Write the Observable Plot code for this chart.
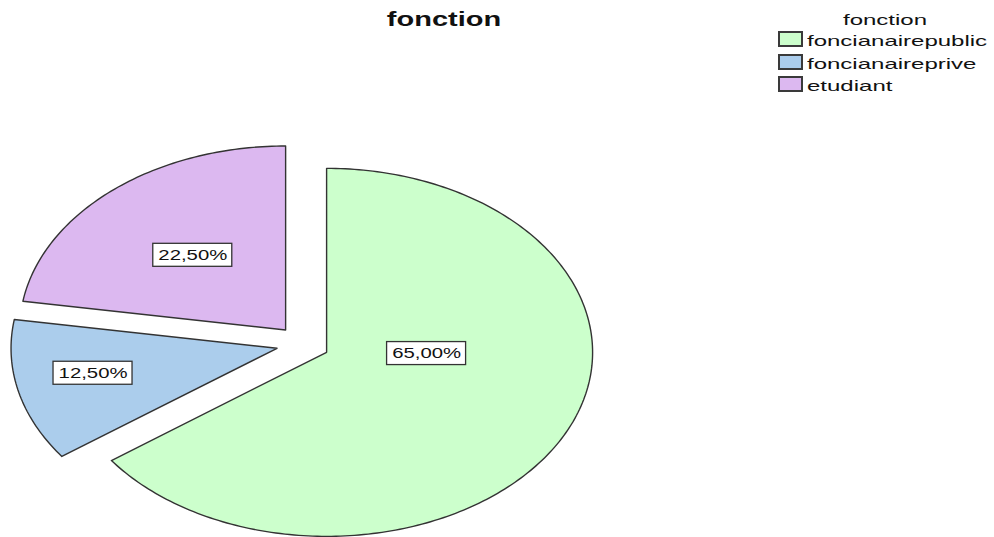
<!DOCTYPE html>
<html>
<head>
<meta charset="utf-8">
<script src="https://cdn.jsdelivr.net/npm/d3@7"></script>
<script src="https://cdn.jsdelivr.net/npm/@observablehq/plot@0.6"></script>
<style>
  html, body { margin: 0; padding: 0; background: #fff; }
  #chart { position: relative; width: 994px; height: 537px; font-family: "Liberation Sans", Arial, sans-serif; color: #111; }
  #header { position: relative; height: 100px; }
  .stretch { position: absolute; white-space: nowrap; }
  #title { left: 444px; top: 8px; font-size: 21px; line-height: 21px; font-weight: bold; transform: translateX(-50%) scaleX(1.38); }
  #legend-title { left: 885px; top: 12px; font-size: 15px; line-height: 15px; transform: translateX(-50%) scaleX(1.6); }
  .swatch { position: absolute; left: 778px; width: 21px; height: 12px; border: 2px solid #3a3a3a; }
  .legend-label { left: 807px; font-size: 15px; line-height: 15px; transform-origin: left center; transform: scaleX(1.6); }
  svg { display: block; }
</style>
</head>
<body>
<div id="chart">
  <div id="header">
    <div id="title" class="stretch">fonction</div>
    <div id="legend-title" class="stretch">fonction</div>
  </div>
</div>
<script>
// Occupation breakdown (share of respondents, %)
const categories = ["foncianairepublic", "foncianaireprive", "etudiant"];
const percents = [65, 12.5, 22.5];
const colors = ["#ccffcc", "#abcdec", "#dcb8f0"];

// Layout: pie centre sits at (302.4, 243.5) in the svg, radii 266 x 184 px
const CX = 302.4, CY = 243.5, RX = 266, RY = 184;
const W = 994, H = 437;
const EXPLODE = 0.1;                     // every slice pulled out by 10% of the radius
const labelAnchors = [[0.465, -0.052], [-0.789, -0.159], [-0.414, 0.482]];

const fmt = p => p.toFixed(2).replace(".", ",") + "%";

// Slice outlines in pie units (unit circle), clockwise from 12 o'clock
const arcs = d3.pie().sort(null).value(d => d)(percents);
const slices = arcs.flatMap((a, i) => {
  const name = categories[i];
  const mid = (a.startAngle + a.endAngle) / 2;
  const ox = EXPLODE * Math.sin(mid), oy = EXPLODE * Math.cos(mid);
  const n = Math.max(2, Math.ceil((a.endAngle - a.startAngle) / (Math.PI / 180)));
  const pts = [{name, x: ox, y: oy}];
  for (let k = 0; k <= n; ++k) {
    const t = a.startAngle + (a.endAngle - a.startAngle) * k / n;
    pts.push({name, x: ox + Math.sin(t), y: oy + Math.cos(t)});
  }
  return pts;
});

const labels = categories.map((name, i) => ({
  name, x: labelAnchors[i][0], y: labelAnchors[i][1], text: fmt(percents[i])
}));

const chart = Plot.plot({
  width: W,
  height: H,
  margin: 0,
  x: {domain: [-CX / RX, (W - CX) / RX], axis: null},
  y: {domain: [-(H - CY) / RY, CY / RY], axis: null},
  color: {domain: categories, range: colors},
  style: {background: "white"},
  marks: [
    Plot.line(slices, {x: "x", y: "y", z: "name", fill: "name", stroke: "#333", strokeWidth: 1.4, curve: "linear-closed"}),
    Plot.rect(labels, {x1: "x", x2: "x", y1: "y", y2: "y", insetLeft: -39.5, insetRight: -39.5, insetTop: -11.5, insetBottom: -11.5, fill: "white", stroke: "#333", strokeWidth: 1.3}),
    Plot.text(labels, {x: "x", y: "y", text: "text", fontSize: 14, fontFamily: "Liberation Sans, Arial, sans-serif", fill: "#111"})
  ]
});

const root = document.getElementById("chart");
root.appendChild(chart);

// Legend rows
const header = document.getElementById("header");
const rowTops = [31, 53.5, 76];
categories.forEach((name, i) => {
  const sw = document.createElement("div");
  sw.className = "swatch";
  sw.style.top = rowTops[i] + "px";
  sw.style.background = colors[i];
  header.appendChild(sw);
  const lab = document.createElement("div");
  lab.className = "stretch legend-label";
  lab.style.top = (rowTops[i] + 2.3) + "px";
  lab.textContent = name;
  header.appendChild(lab);
});

// Widen the slice labels to the chart's broad lettering
chart.querySelectorAll('g[aria-label="text"] text').forEach(t => {
  const len = t.getComputedTextLength();
  t.setAttribute("textLength", (len * 1.45).toFixed(1));
  t.setAttribute("lengthAdjust", "spacingAndGlyphs");
});
</script>
</body>
</html>
